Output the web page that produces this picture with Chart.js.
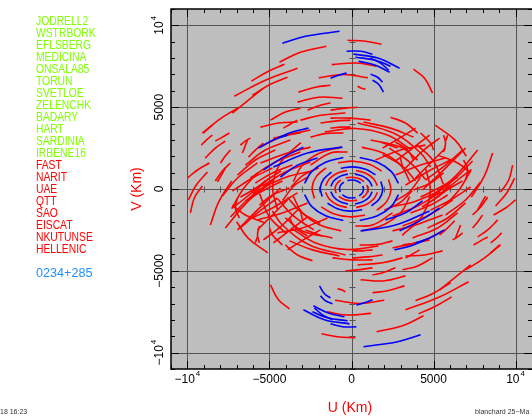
<!DOCTYPE html>
<html>
<head>
<meta charset="utf-8">
<script src="https://cdn.jsdelivr.net/npm/chart.js@4/dist/chart.umd.min.js"></script>
<style>
  html, body { margin: 0; padding: 0; background: #fff; }
</style>
</head>
<body>
<canvas id="uv" width="532" height="416"></canvas>
<script>
// antenna list, as printed left of the plot
const antennasEuropean = ['JODRELL2', 'WSTRBORK', 'EFLSBERG', 'MEDICINA', 'ONSALA85', 'TORUN',
  'SVETLOE', 'ZELENCHK', 'BADARY', 'HART', 'SARDINIA', 'IRBENE16'];
const antennasOther = ['FAST', 'NARIT', 'UAE', 'QTT', 'SAO', 'EISCAT', 'NKUTUNSE', 'HELLENIC'];
const sourceName = '0234+285';

const tickValues = [-10000, -5000, 0, 5000, 10000];
const tickText = ['\u221210', '\u22125000', '0', '5000', '10'];
const tickPower = ['4', '', '', '', '4'];
const xTitle = 'U (Km)';
const yTitle = 'V (Km)';
const footLeft = '18 16:23';
const footRight = 'blanchard 25\u2212Ma';

const redTracks = [
  [[-4390, 7750], [-3110, 8360], [-1530, 8720]],
  [[-6100, 6590], [-5060, 7200], [-4090, 7630]],
  [[-7140, 5670], [-5250, 6650], [-3290, 7380]],
  [[-6040, 5730], [-4940, 6400], [-3900, 6830]],
  [[-7260, 4640], [-6280, 5430], [-5370, 6160]],
  [[-9030, 3420], [-8110, 4210], [-6950, 4940]],
  [[-9150, 2680], [-8850, 2990], [-8480, 3290]],
  [[-7990, 1590], [-7690, 2010], [-7380, 2380]],
  [[-8170, 430], [-7930, 850], [-7690, 1280]],
  [[-9940, -670], [-9460, 240], [-8780, 1040]],
  [[-6770, 2680], [-6470, 2930], [-6160, 3110]],
  [[-6280, 1950], [-5860, 2380], [-5370, 2810]],
  [[-4150, 3720], [-3720, 3970], [-3290, 4210]],
  [[-3230, 5920], [-2200, 6220], [-1280, 6340]],
  [[-3290, 5310], [-2010, 5610], [-550, 5550]],
  [[-2680, 4820], [-1890, 5120], [-1280, 5250]],
  [[-1280, 4820], [-370, 4940], [370, 5000]],
  [[-1280, 4330], [-60, 4330], [1160, 4210]],
  [[-1280, 3720], [-670, 3780], [-60, 3780]],
  [[-240, 9090], [850, 9030], [1830, 8850]],
  [[370, 6280], [610, 6160], [850, 6100]],
  [[3780, 7320], [4450, 6770], [4940, 5860]],
  [[2380, 4390], [3290, 4030], [4030, 3420]],
  [[730, 4090], [2380, 3720], [3780, 3170]],
  [[5860, 3290], [5800, 3110], [5730, 2930]],
  [[1770, 2870], [2320, 2680], [2810, 2500]],
  [[2680, 2870], [3420, 2380], [3780, 1770]],
  [[2990, 1890], [3050, 1590], [3110, 1340]],
  [[4210, 3420], [4820, 2810], [5000, 2380]],
  [[5610, 3290], [5730, 2810], [5610, 2260]],
  [[5250, 2070], [6470, 1590], [7260, 980]],
  [[6830, 1770], [7080, 1160], [6950, 550]],
  [[9820, 1460], [9580, 550], [9090, -180]],
  [[10000, -670], [9390, -1160], [8660, -1590]],
  [[8300, -490], [7870, -1100], [7380, -1590]],
  [[8910, -1890], [8300, -2500], [7690, -2930]],
  [[6650, -2200], [6530, -2500], [6340, -2990]],
  [[8300, -2930], [7870, -3170], [7440, -3420]],
  [[9090, -3420], [8790, -3660], [8480, -3900]],
  [[2380, -1100], [3780, -790], [5250, -180]],
  [[3600, -1460], [4820, -980], [5860, -370]],
  [[3780, -60], [4820, 370], [5610, 980]],
  [[4210, -490], [5430, 120], [6470, 730]],
  [[5250, -490], [6470, 550], [7260, 1160]],
  [[1460, 1770], [2990, 2380], [4510, 2680]],
  [[2680, 850], [4210, 1460], [5730, 1890]],
  [[3290, 240], [4820, 1160], [6040, 1770]],
  [[4510, 550], [5730, 1460], [6770, 2380]],
  [[4820, -1280], [6040, -670], [7260, 120]],
  [[5730, -1590], [6950, -670], [7870, 430]],
  [[-6470, 1460], [-5250, 2380], [-3720, 2990]],
  [[-6160, 670], [-4640, 1650], [-3110, 2260]],
  [[-5430, 180], [-4030, 1040], [-2500, 1650]],
  [[-6950, 850], [-5860, 1770], [-4640, 2380]],
  [[-5550, 2560], [-4330, 3170], [-2500, 3600]],
  [[-5550, 1590], [-3900, 2200], [-2500, 2560]],
  [[-2500, 1460], [-1280, 2200], [-240, 2260]],
  [[-3110, 4210], [-1890, 4510], [-370, 4640]],
  [[-4940, 4210], [-4030, 4700], [-3110, 4940]],
  [[-7690, -2380], [-6340, -790], [-4940, 370]],
  [[-7380, -1710], [-6160, -490], [-4760, 550]],
  [[-6950, -2500], [-5730, -1280], [-4330, 60]],
  [[-6770, -490], [-5730, 120], [-4940, 730]],
  [[-5730, -2500], [-4940, -1710], [-3900, -670]],
  [[-5370, -3110], [-4330, -2320], [-3290, -1280]],
  [[-4760, -3290], [-3720, -2500], [-2680, -1710]],
  [[-3900, -3720], [-2930, -3110], [-1890, -2500]],
  [[-5550, 3780], [-4450, 4030], [-3290, 4090]],
  [[-1890, 4030], [-1000, 4150], [-60, 4210]],
  [[370, 4030], [2560, 3420], [4210, 2200], [4820, 1340]],
  [[-2500, 3170], [-1500, 3400], [-490, 3420]],
  [[-4760, 3110], [-3900, 3300], [-3110, 3420]],
  [[1160, 2990], [2990, 2560], [4030, 1770]],
  [[-6000, -300], [-5200, 500], [-4300, 1100]],
  [[-3700, 100], [-3000, 800], [-2000, 1300]],
  [[-4200, -700], [-3500, 200], [-2700, 700]],
  [[-7300, -1200], [-6600, 0], [-5700, 1000]],
  [[-8600, -2200], [-8100, -800], [-7300, 500]],
  [[1900, 2100], [3100, 1400], [3900, 500]],
  [[2300, 2500], [3600, 1600], [4500, 600]],
  [[4000, 2700], [5000, 1700], [5600, 300]],
  [[5100, 3900], [6300, 3000], [7000, 2000]],
  [[-2000, 6800], [-500, 7000], [1000, 6800]],
  [[-1200, 7600], [300, 7700], [1500, 7500]],
  // short baselines round the centre
  [[770, 460], [450, 640], [50, 720], [-340, 680]],
  [[-640, 550], [-890, 330], [-1000, 40], [-940, -250]],
  [[1580, 200], [1340, 630], [870, 960], [280, 1130]],
  [[-280, 1130], [-870, 960], [-1340, 630], [-1580, 200]],
  [[1840, 1090], [1090, 1510], [120, 1700], [-820, 1600]],
  [[-1540, 1300], [-2140, 770], [-2400, 90], [-2260, -580]],
  [[3550, 450], [3020, 1420], [1960, 2180], [630, 2560]],
  [[-630, 2560], [-1960, 2180], [-3020, 1420], [-3550, 450]],
  [[3680, 2380], [2180, 3300], [250, 3700], [-1640, 3480]],
  [[-3090, 2830], [-4280, 1680], [-4800, 190], [-4510, -1270]]
];

const blueTracks = [
  [[-4210, 8910], [-2810, 9330], [-730, 9640]],
  [[-300, 8420], [550, 8420], [1280, 8240]],
  [[120, 8240], [1650, 7990], [2930, 7380]],
  [[240, 8050], [1460, 7870], [2380, 7500]],
  [[430, 7810], [1460, 7560], [2320, 7140]],
  [[1160, 7990], [1770, 7690], [2260, 7260]],
  [[-1280, 6770], [-790, 6950], [-300, 7080]],
  [[1160, 7020], [1590, 6830], [1890, 6530]],
  [[1280, 6650], [1650, 6400], [1950, 5920]],
  [[-5670, 2500], [-4760, 2990], [-3900, 3290]],
  [[-5370, 1160], [-4150, 1950], [-2930, 2560]],
  [[-4330, 730], [-3290, 1460], [-2070, 1890]],
  [[-4510, 3110], [-3600, 3480], [-2620, 3720]],
  [[-4760, 1340], [-2680, 2200], [-550, 2560]],
  [[560, 350], [330, 490], [40, 550], [-250, 520]],
  [[-470, 420], [-650, 250], [-730, 30], [-690, -190]],
  [[1260, 160], [1070, 500], [700, 770], [220, 910]],
  [[-220, 910], [-700, 770], [-1070, 500], [-1260, 160]],
  [[1460, 870], [860, 1200], [100, 1350], [-650, 1270]],
  [[-1220, 1030], [-1690, 610], [-1900, 70], [-1790, -460]],
  [[2860, 340], [2430, 1060], [1580, 1640], [500, 1920]],
  [[-500, 1920], [-1580, 1640], [-2430, 1060], [-2860, 340]]
];

const FONT = '"Liberation Sans", Arial, sans-serif';

function trackDatasets(list, color) {
  const arcs = [];
  list.forEach(arc => {
    arcs.push(arc);
    arcs.push(arc.map(([u, v]) => [-u, -v]));
  });
  return arcs.map(arc => ({
    data: arc.map(([u, v]) => ({x: u, y: v})),
    showLine: true,
    borderColor: color,
    borderWidth: 1.6,
    tension: 0.4,
    pointRadius: 0,
    fill: false
  }));
}

function line(ctx, x1, y1, x2, y2) {
  ctx.beginPath();
  ctx.moveTo(x1, y1);
  ctx.lineTo(x2, y2);
  ctx.stroke();
}

function powerLabel(ctx, base, power, cx, cy) {
  ctx.font = '12px ' + FONT;
  const wb = ctx.measureText(base).width;
  ctx.font = '8px ' + FONT;
  const wp = power ? ctx.measureText(power).width + 1 : 0;
  const x0 = cx - (wb + wp) / 2;
  ctx.textAlign = 'left';
  ctx.textBaseline = 'middle';
  ctx.font = '12px ' + FONT;
  ctx.fillText(base, x0, cy);
  if (power) {
    ctx.font = '8px ' + FONT;
    ctx.fillText(power, x0 + wb + 1, cy - 6);
  }
}

const pgplotAxes = {
  id: 'pgplotAxes',
  beforeDatasetsDraw(chart) {
    const {ctx, chartArea: a, scales: {x, y}} = chart;
    ctx.save();
    ctx.fillStyle = '#bebebe';
    ctx.fillRect(a.left, a.top, a.right - a.left, a.bottom - a.top);
    ctx.strokeStyle = '#555';
    ctx.lineWidth = 1;
    tickValues.forEach(v => {
      const px = Math.round(x.getPixelForValue(v)) + 0.5;
      const py = Math.round(y.getPixelForValue(v)) + 0.5;
      line(ctx, px, a.top, px, a.bottom);
      line(ctx, a.left, py, a.right, py);
    });
    // ticks along the zero lines
    const x0 = Math.round(x.getPixelForValue(0)) + 0.5;
    const y0 = Math.round(y.getPixelForValue(0)) + 0.5;
    for (let v = -11000; v <= 11000; v += 1000) {
      const px = Math.round(x.getPixelForValue(v)) + 0.5;
      const py = Math.round(y.getPixelForValue(v)) + 0.5;
      line(ctx, px, y0 - 3, px, y0 + 3);
      line(ctx, x0 - 3, py, x0 + 3, py);
    }
    ctx.restore();
  },
  afterDatasetsDraw(chart) {
    const {ctx, chartArea: a, scales: {x, y}} = chart;
    ctx.save();
    ctx.strokeStyle = '#000';
    ctx.lineWidth = 1;
    for (let v = -11000; v <= 11000; v += 1000) {
      const len = v % 5000 === 0 ? 8 : 4;
      const px = Math.round(x.getPixelForValue(v)) + 0.5;
      const py = Math.round(y.getPixelForValue(v)) + 0.5;
      line(ctx, px, a.bottom, px, a.bottom - len);
      line(ctx, px, a.top, px, a.top + len);
      line(ctx, a.left, py, a.left + len, py);
      line(ctx, a.right, py, a.right - len, py);
    }
    ctx.lineWidth = 1.5;
    ctx.strokeRect(a.left, a.top, a.right - a.left + 2, a.bottom - a.top);

    // tick labels
    ctx.fillStyle = '#000';
    tickValues.forEach((v, i) => {
      powerLabel(ctx, tickText[i], tickPower[i], x.getPixelForValue(v), 380);
      ctx.save();
      ctx.translate(160, y.getPixelForValue(v));
      ctx.rotate(-Math.PI / 2);
      powerLabel(ctx, tickText[i], tickPower[i], 0, 0);
      ctx.restore();
    });

    // axis titles
    ctx.fillStyle = '#ff0000';
    ctx.font = '14px ' + FONT;
    ctx.textAlign = 'center';
    ctx.textBaseline = 'middle';
    ctx.fillText(xTitle, 350, 408);
    ctx.save();
    ctx.translate(137, 189);
    ctx.rotate(-Math.PI / 2);
    ctx.fillText(yTitle, 0, 0);
    ctx.restore();

    // antenna and source names
    ctx.textAlign = 'left';
    ctx.font = '12px ' + FONT;
    const names = antennasEuropean.concat(antennasOther);
    names.forEach((name, i) => {
      ctx.fillStyle = i < antennasEuropean.length ? '#80ff00' : '#ff0000';
      ctx.save();
      ctx.translate(36, 21.5 + 12 * i);
      ctx.scale(0.86, 1);
      ctx.fillText(name, 0, 0);
      ctx.restore();
    });
    ctx.fillStyle = '#1e90ff';
    ctx.save();
    ctx.translate(36, 21.5 + 12 * (names.length + 1));
    ctx.scale(1.05, 1);
    ctx.fillText(sourceName, 0, 0);
    ctx.restore();

    // footer stamps
    ctx.fillStyle = '#333';
    ctx.font = '7px ' + FONT;
    ctx.fillText(footLeft, 0, 412);
    ctx.fillText(footRight, 475, 412);
    ctx.restore();
  }
};

const ctx = document.getElementById('uv').getContext('2d');
new Chart(ctx, {
  type: 'scatter',
  data: {
    datasets: trackDatasets(blueTracks, '#0000ff').concat(trackDatasets(redTracks, '#ff0000'))
  },
  options: {
    animation: false,
    responsive: false,
    devicePixelRatio: 1,
    layout: {padding: {left: 171, top: 9, right: 0, bottom: 47}},
    plugins: {legend: {display: false}, tooltip: {enabled: false}},
    scales: {
      x: {type: 'linear', min: -11000, max: 11000, display: false},
      y: {type: 'linear', min: -11000, max: 11000, display: false}
    }
  },
  plugins: [pgplotAxes]
});
</script>
</body>
</html>
